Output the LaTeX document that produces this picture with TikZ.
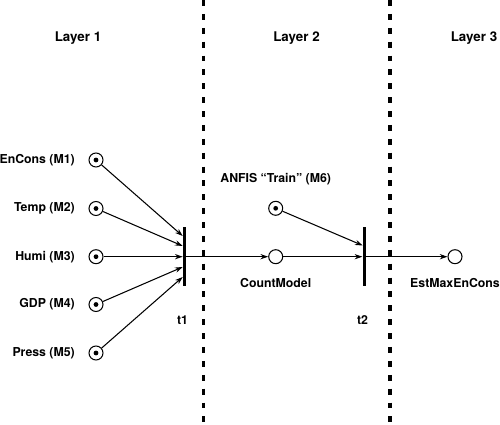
\documentclass[tikz,border=0pt]{standalone}
\usepackage{fontspec}
\setmainfont{TeX Gyre Heros}
\usetikzlibrary{petri,arrows.meta}

\tikzset{
  every node/.style={font=\bfseries\fontsize{7}{8}\selectfont},
  every token/.style={fill=black,circle,inner sep=0pt,minimum size=0.095cm},
  place/.style={circle,draw,line width=0.6pt,fill=white,minimum size=0.28cm,inner sep=0pt},
  transition/.style={rectangle,fill=black,inner sep=0pt,minimum width=0.068cm,minimum height=1.18cm},
  arc/.style={line width=0.6pt,-{Stealth[length=4.4pt,width=3pt]}},
  layersep/.style={line width=1.9pt,dash pattern=on 3.4pt off 4.5pt},
  layertitle/.style={font=\bfseries\fontsize{7.6}{9}\selectfont}
}

\newcommand{\layerBounds}{
  \coordinate (s1a) at (203.5,0);
  \coordinate (s1b) at (203.5,425);
  \coordinate (s2a) at (390,0);
  \coordinate (s2b) at (390,425);

  \draw [layersep] (s1a) -- (s1b);
  \draw [layersep] (s2a) -- (s2b);
}

\begin{document}
\begin{tikzpicture}[x=0.02cm,y=-0.02cm]
    \useasboundingbox (0,0) rectangle (500,425);
    \layerBounds

    \node [layertitle] (lay1) at (78,38) {Layer 1};
    \node [layertitle] (lay2) at (296.5,38) {Layer 2};
    \node [layertitle] (lay3) at (474,38) {Layer 3};

    \node [place,tokens=1,
    label={[label distance=0.15cm]180:EnCons (M1)}] (m1) at (96,160) {};

    \node [place,tokens=1,
    label={[label distance=0.15cm]180:Temp (M2)}] (m2) at (96,208.5) {};

    \node [place,tokens=1,
    label={[label distance=0.15cm]180:Humi (M3)}] (m3) at (96,256.7) {};

    \node [place,tokens=1,
    label={[label distance=0.15cm]180:GDP (M4)}] (m4) at (96,304.5) {};

    \node [place,tokens=1,
    label={[label distance=0.15cm]180:Press (M5)}] (m5) at (96,353) {};

    \node [transition,
    label={[label distance=0.46cm]-92:t1}] (t1) at (184.4,256.7) {};

    \node [place,tokens=1,
    label={[label distance=0.2cm]90:ANFIS “Train” (M6)}] (m6) at (275.7,208.3) {};

    \node [place,
    label={[label distance=0.15cm]-90:CountModel}] (count) at (275.7,256.7) {};

    \node [transition,
    label={[label distance=0.46cm]-92:t2}] (t2) at (364.4,256.7) {};

    \node [place,
    label={[label distance=0.15cm]-90:EstMaxEnCons}] (est) at (455,256.7) {};

    \coordinate (t1a) at (182.7,236);
    \coordinate (t1b) at (182.7,246);
    \coordinate (t1c) at (182.7,256.7);
    \coordinate (t1d) at (182.7,267);
    \coordinate (t1e) at (182.7,277);
    \coordinate (t2a) at (362.7,245.5);

    \draw [arc] (m1) -- (t1a);
    \draw [arc] (m2) -- (t1b);
    \draw [arc] (m3) -- (t1c);
    \draw [arc] (m4) -- (t1d);
    \draw [arc] (m5) -- (t1e);

    \draw [arc] (t1) -- (count);
    \draw [arc] (count) -- (t2);
    \draw [arc] (m6) -- (t2a);
    \draw [arc] (t2) -- (est);
  \end{tikzpicture}
\end{document}
